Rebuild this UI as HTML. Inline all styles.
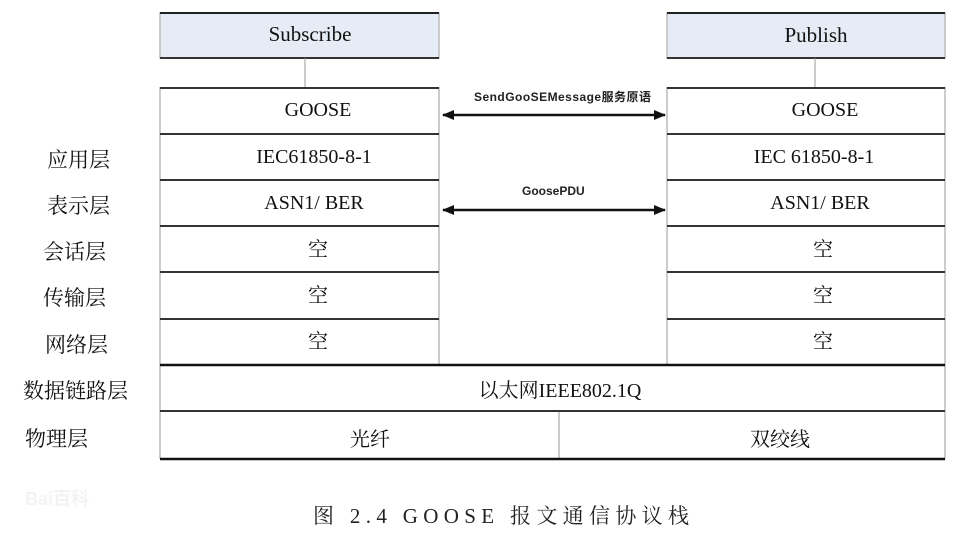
<!DOCTYPE html>
<html><head><meta charset="utf-8"><style>
html,body{margin:0;padding:0;background:#fff;width:960px;height:542px;overflow:hidden}
svg{display:block}
.s{font-family:"Liberation Serif","Noto Serif CJK SC",serif;fill:#111}
.c{font-family:"Liberation Serif","Noto Serif CJK SC",serif;fill:#222;font-size:21px}
.a{font-family:"Liberation Sans","Noto Sans CJK SC",sans-serif;font-size:12px;font-weight:bold;fill:#222}
</style></head><body>
<svg width="960" height="542" viewBox="0 0 960 542" xmlns="http://www.w3.org/2000/svg">
<defs><marker id="ah" markerWidth="12" markerHeight="10" refX="11" refY="5" orient="auto-start-reverse" markerUnits="userSpaceOnUse"><path d="M0,0 L12,5 L0,10 Z" fill="#111"/></marker></defs>
<!-- header boxes -->
<rect x="160" y="13" width="279" height="45" fill="#e6ecf5" stroke="#bbb" stroke-width="1.5"/>
<line x1="160" y1="13" x2="439" y2="13" stroke="#222" stroke-width="2"/>
<line x1="160" y1="58" x2="439" y2="58" stroke="#333" stroke-width="2"/>
<rect x="667" y="13" width="278" height="45" fill="#e6ecf5" stroke="#bbb" stroke-width="1.5"/>
<line x1="667" y1="13" x2="945" y2="13" stroke="#222" stroke-width="2"/>
<line x1="667" y1="58" x2="945" y2="58" stroke="#333" stroke-width="2"/>
<text x="310" y="41" text-anchor="middle" class="s" font-size="21">Subscribe</text>
<text x="816" y="42" text-anchor="middle" class="s" font-size="21">Publish</text>
<line x1="305" y1="58" x2="305" y2="87" stroke="#999" stroke-width="1"/>
<line x1="815" y1="58" x2="815" y2="87" stroke="#999" stroke-width="1"/>
<!-- stacks -->
<g stroke="#bbb" stroke-width="1.5" fill="none">
<line x1="160" y1="87" x2="160" y2="459"/>
<line x1="439" y1="87" x2="439" y2="365"/>
<line x1="667" y1="87" x2="667" y2="365"/>
<line x1="945" y1="87" x2="945" y2="459"/>
<line x1="559" y1="411" x2="559" y2="459"/>
</g>
<g stroke="#333" stroke-width="2">
<line x1="160" y1="88" x2="439" y2="88"/><line x1="667" y1="88" x2="945" y2="88"/>
<line x1="160" y1="134" x2="439" y2="134"/><line x1="667" y1="134" x2="945" y2="134"/>
<line x1="160" y1="180" x2="439" y2="180"/><line x1="667" y1="180" x2="945" y2="180"/>
<line x1="160" y1="226" x2="439" y2="226"/><line x1="667" y1="226" x2="945" y2="226"/>
<line x1="160" y1="272" x2="439" y2="272"/><line x1="667" y1="272" x2="945" y2="272"/>
<line x1="160" y1="319" x2="439" y2="319"/><line x1="667" y1="319" x2="945" y2="319"/>
</g>
<line x1="160" y1="365" x2="945" y2="365" stroke="#111" stroke-width="2.5"/>
<line x1="160" y1="411" x2="945" y2="411" stroke="#333" stroke-width="2"/>
<line x1="160" y1="459" x2="945" y2="459" stroke="#111" stroke-width="2.5"/>
<!-- cell text -->
<g class="s" font-size="20" text-anchor="middle">
<text x="318" y="116">GOOSE</text><text x="825" y="116">GOOSE</text>
<text x="314" y="163">IEC61850-8-1</text><text x="814" y="163">IEC 61850-8-1</text>
<text x="314" y="209">ASN1/ BER</text><text x="820" y="209">ASN1/ BER</text>
<text x="318" y="256">空</text><text x="823" y="256">空</text>
<text x="318" y="302">空</text><text x="823" y="302">空</text>
<text x="318" y="348">空</text><text x="823" y="348">空</text>
<text x="560" y="397">以太网IEEE802.1Q</text>
<text x="370" y="446">光纤</text><text x="780" y="446">双绞线</text>
</g>
<!-- left labels -->
<g class="s" font-size="21">
<text x="47" y="167">应用层</text>
<text x="47" y="213">表示层</text>
<text x="43" y="259">会话层</text>
<text x="43" y="305">传输层</text>
<text x="45" y="352">网络层</text>
<text x="23" y="398">数据链路层</text>
<text x="25" y="446">物理层</text>
</g>
<!-- arrows -->
<line x1="443" y1="115" x2="665" y2="115" stroke="#111" stroke-width="2.5" marker-start="url(#ah)" marker-end="url(#ah)"/>
<line x1="443" y1="210" x2="665" y2="210" stroke="#111" stroke-width="2.5" marker-start="url(#ah)" marker-end="url(#ah)"/>
<text x="474" y="101" class="a" textLength="177">SendGooSEMessage服务原语</text>
<text x="522" y="195" class="a">GoosePDU</text>
<!-- caption -->
<text x="313" y="523" class="c" textLength="376">图 2.4  GOOSE 报文通信协议栈</text>
<text x="25" y="505" font-family="Liberation Sans,sans-serif" font-size="18" font-weight="bold" fill="#f3f3f3">Bai百科</text>
</svg>
</body></html>
